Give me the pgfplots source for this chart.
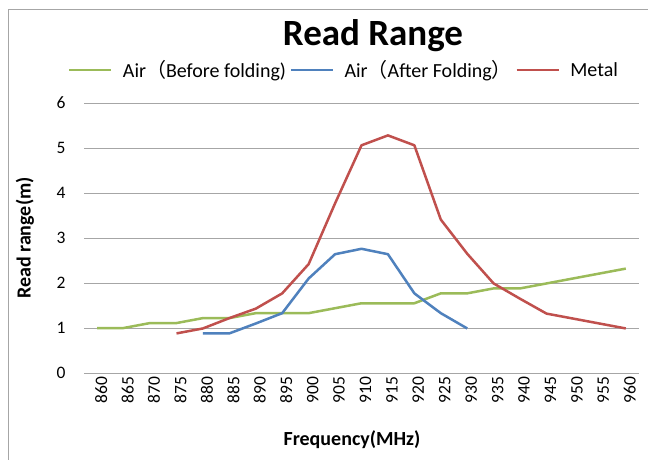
\documentclass[border=0pt]{standalone}
\usepackage{pgfplots}
\pgfplotsset{compat=1.18}
\usepackage{fontspec}
\setmainfont{Carlito}
\newfontfamily\cjk{Noto Sans CJK SC}
\definecolor{cg}{HTML}{9BBB59}
\definecolor{cb}{HTML}{4F81BD}
\definecolor{cr}{HTML}{C0504D}
\definecolor{gridc}{HTML}{A6A6A6}
\begin{document}
\begin{tikzpicture}[x=1pt,y=1pt]
\useasboundingbox (0,0) rectangle (648,459);
\fill[white] (0,0) rectangle (648,459);
\draw[gridc, line width=1pt] (8,-10) rectangle (660,449.5);
\begin{axis}[
  at={(84pt,86pt)}, anchor=south west,
  scale only axis, width=555pt, height=270pt,
  xmin=857.5, xmax=962.5, ymin=0, ymax=6,
  xtick={860,865,...,960}, ytick={0,1,...,6},
  ymajorgrids, grid style={gridc, line width=1pt},
  axis x line*=bottom, axis y line*=left,
  y axis line style={draw=none},
  x axis line style={gridc, line width=1pt, -},
  major tick length=0pt,
  tick label style={font=\fontsize{17.5}{17.5}\selectfont},
  xticklabel style={rotate=90, anchor=east, yshift=-4pt},
  yticklabel style={xshift=-15pt},
  /pgf/number format/assume math mode=true,
  /pgf/number format/set thousands separator={},
  legend columns=3,
  legend style={at={(0.467,1.122)}, anchor=center, draw=none, fill=none,
    font=\fontsize{20}{20}\selectfont,
    nodes={inner xsep=0.5pt, inner ysep=2pt},
    /tikz/every even column/.append style={column sep=3pt},
    /tikz/every odd column/.append style={column sep=10pt}},
  legend image code/.code={\draw[#1] (0pt,0pt) -- (42pt,0pt);},
  every axis plot/.append style={line width=2.5pt, line join=round},
]
\addplot[cg] coordinates {
(860,1.0) (865,1.0) (870,1.11) (875,1.11) (880,1.22) (885,1.22) (890,1.33) (895,1.33) (900,1.33)
(905,1.44) (910,1.55) (915,1.55) (920,1.55) (925,1.77) (930,1.77) (935,1.88) (940,1.88)
(945,1.99) (950,2.1) (955,2.21) (960,2.32)};
\addlegendentry{Air{\cjk （}Before folding)}
\addplot[cb] coordinates {
(880,0.88) (885,0.88) (890,1.1) (895,1.33) (900,2.1) (905,2.64) (910,2.76) (915,2.64)
(920,1.77) (925,1.33) (930,0.99)};
\addlegendentry{Air{\cjk （}After Folding{\cjk ）}}
\addplot[cr] coordinates {
(875,0.88) (880,0.99) (885,1.22) (890,1.43) (895,1.77) (900,2.42) (905,3.77) (910,5.06)
(915,5.28) (920,5.06) (925,3.41) (930,2.65) (935,1.99) (940,1.65) (945,1.32) (950,1.21)
(955,1.1) (960,0.99)};
\addlegendentry{Metal}
\end{axis}
\node[font=\fontsize{37}{37}\selectfont\bfseries] at (373,423) {Read Range};
\node[font=\fontsize{20}{20}\selectfont\bfseries] at (352,19) {Frequency(MHz)};
\node[font=\fontsize{20}{20}\selectfont\bfseries, rotate=90] at (25,221) {Read range(m)};
\end{tikzpicture}
\end{document}
